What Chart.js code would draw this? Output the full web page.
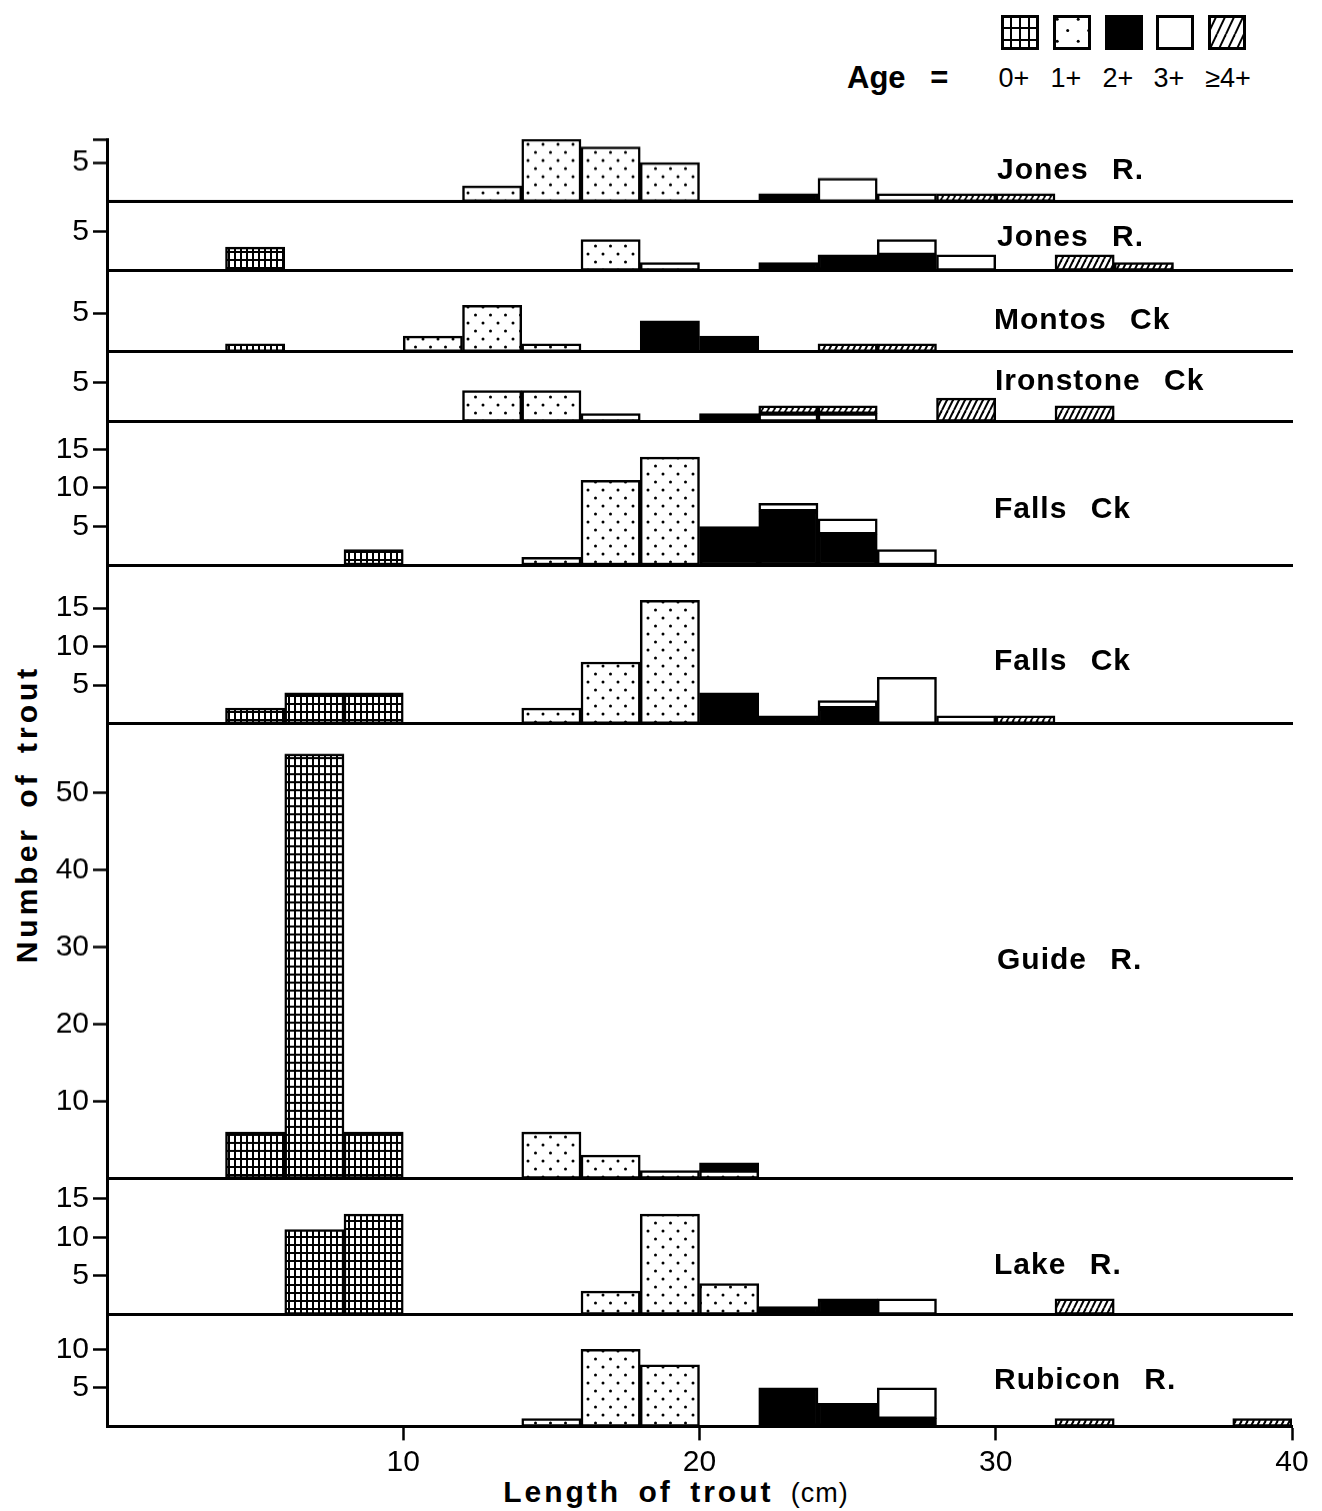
<!DOCTYPE html>
<html>
<head>
<meta charset="utf-8">
<title>Length of trout by age class</title>
<script src="https://cdn.jsdelivr.net/npm/chart.js@4.4.1/dist/chart.umd.min.js"></script>
<style>
  body { margin:0; background:#fff; width:1322px; height:1511px; position:relative; overflow:hidden;
         font-family:"Liberation Sans", Arial, sans-serif; color:#000; }
  .panel { position:absolute; left:0; width:1322px; }
  .name { position:absolute; font-weight:bold; font-size:30px; line-height:30px; letter-spacing:1px;
          word-spacing:14px; white-space:nowrap; }
  .swatch { position:absolute; top:15px; }
  .agelbl { position:absolute; top:63px; font-size:27px; line-height:30px; width:60px; text-align:center;
            font-family:"Liberation Sans Narrow","Liberation Sans",Arial,sans-serif; }
  #ytitle { position:absolute; left:-173px; top:796px; width:400px; text-align:center; transform:rotate(-90deg);
            font-weight:bold; font-size:30px; line-height:36px; letter-spacing:4px; word-spacing:6px; }
  #xtitle { position:absolute; left:376px; top:1474px; width:600px; text-align:center;
            font-size:30px; line-height:36px; letter-spacing:3px; word-spacing:6px; }
</style>
</head>
<body>
<div id="legend"></div>
<div id="ytitle">Number of trout</div>
<div id="xtitle"><b>Length of trout</b> <span style="font-size:27px;letter-spacing:1px">(cm)</span></div>
<div id="panels"></div>
<script>
// ── Data: 2-cm length classes, counts per age class (0+,1+,2+,3+,≥4+) ──
const binMids  = [1,3,5,7,9,11,13,15,17,19,21,23,25,27,29,31,33,35,37,39];
const ageNames = ['0+','1+','2+','3+','≥4+'];

const jonesA = [
  [0,0,0,0,0,0,0,0,0,0,0,0,0,0,0,0,0,0,0,0],
  [0,0,0,0,0,0,2,8,7,5,0,0,0,0,0,0,0,0,0,0],
  [0,0,0,0,0,0,0,0,0,0,0,1,0,0,0,0,0,0,0,0],
  [0,0,0,0,0,0,0,0,0,0,0,0,3,1,0,0,0,0,0,0],
  [0,0,0,0,0,0,0,0,0,0,0,0,0,0,1,1,0,0,0,0]];
const jonesB = [
  [0,0,3,0,0,0,0,0,0,0,0,0,0,0,0,0,0,0,0,0],
  [0,0,0,0,0,0,0,0,4,1,0,0,0,0,0,0,0,0,0,0],
  [0,0,0,0,0,0,0,0,0,0,0,1,2,2,0,0,0,0,0,0],
  [0,0,0,0,0,0,0,0,0,0,0,0,0,2,2,0,0,0,0,0],
  [0,0,0,0,0,0,0,0,0,0,0,0,0,0,0,0,2,1,0,0]];
const montos = [
  [0,0,1,0,0,0,0,0,0,0,0,0,0,0,0,0,0,0,0,0],
  [0,0,0,0,0,2,6,1,0,0,0,0,0,0,0,0,0,0,0,0],
  [0,0,0,0,0,0,0,0,0,4,2,0,0,0,0,0,0,0,0,0],
  [0,0,0,0,0,0,0,0,0,0,0,0,0,0,0,0,0,0,0,0],
  [0,0,0,0,0,0,0,0,0,0,0,0,1,1,0,0,0,0,0,0]];
const ironstone = [
  [0,0,0,0,0,0,0,0,0,0,0,0,0,0,0,0,0,0,0,0],
  [0,0,0,0,0,0,4,4,1,0,0,0,0,0,0,0,0,0,0,0],
  [0,0,0,0,0,0,0,0,0,0,1,0,0,0,0,0,0,0,0,0],
  [0,0,0,0,0,0,0,0,0,0,0,1,1,0,0,0,0,0,0,0],
  [0,0,0,0,0,0,0,0,0,0,0,1,1,0,3,0,2,0,0,0]];
const fallsA = [
  [0,0,0,0,2,0,0,0,0,0,0,0,0,0,0,0,0,0,0,0],
  [0,0,0,0,0,0,0,1,11,14,0,0,0,0,0,0,0,0,0,0],
  [0,0,0,0,0,0,0,0,0,0,5,7,4,0,0,0,0,0,0,0],
  [0,0,0,0,0,0,0,0,0,0,0,1,2,2,0,0,0,0,0,0],
  [0,0,0,0,0,0,0,0,0,0,0,0,0,0,0,0,0,0,0,0]];
const fallsB = [
  [0,0,2,4,4,0,0,0,0,0,0,0,0,0,0,0,0,0,0,0],
  [0,0,0,0,0,0,0,2,8,16,0,0,0,0,0,0,0,0,0,0],
  [0,0,0,0,0,0,0,0,0,0,4,1,2,0,0,0,0,0,0,0],
  [0,0,0,0,0,0,0,0,0,0,0,0,1,6,1,0,0,0,0,0],
  [0,0,0,0,0,0,0,0,0,0,0,0,0,0,0,1,0,0,0,0]];
const guide = [
  [0,0,6,55,6,0,0,0,0,0,0,0,0,0,0,0,0,0,0,0],
  [0,0,0,0,0,0,0,6,3,1,1,0,0,0,0,0,0,0,0,0],
  [0,0,0,0,0,0,0,0,0,0,1,0,0,0,0,0,0,0,0,0],
  [0,0,0,0,0,0,0,0,0,0,0,0,0,0,0,0,0,0,0,0],
  [0,0,0,0,0,0,0,0,0,0,0,0,0,0,0,0,0,0,0,0]];
const lake = [
  [0,0,0,11,13,0,0,0,0,0,0,0,0,0,0,0,0,0,0,0],
  [0,0,0,0,0,0,0,0,3,13,4,0,0,0,0,0,0,0,0,0],
  [0,0,0,0,0,0,0,0,0,0,0,1,2,0,0,0,0,0,0,0],
  [0,0,0,0,0,0,0,0,0,0,0,0,0,2,0,0,0,0,0,0],
  [0,0,0,0,0,0,0,0,0,0,0,0,0,0,0,0,2,0,0,0]];
const rubicon = [
  [0,0,0,0,0,0,0,0,0,0,0,0,0,0,0,0,0,0,0,0],
  [0,0,0,0,0,0,0,1,10,8,0,0,0,0,0,0,0,0,0,0],
  [0,0,0,0,0,0,0,0,0,0,0,5,3,1,0,0,0,0,0,0],
  [0,0,0,0,0,0,0,0,0,0,0,0,0,4,0,0,0,0,0,0],
  [0,0,0,0,0,0,0,0,0,0,0,0,0,0,0,0,1,0,0,1]];

const riverNames = ['Jones R.','Jones R.','Montos Ck','Ironstone Ck','Falls Ck','Falls Ck','Guide R.','Lake R.','Rubicon R.'];
const riverData  = [jonesA, jonesB, montos, ironstone, fallsA, fallsB, guide, lake, rubicon];
const yTickVals  = [[5,8],[5],[5],[5],[5,10,15],[5,10,15],[10,20,30,40,50],[5,10,15],[5,10]];
const yMaxes     = [8, 9, 10.6, 9, 18.7, 20.6, 59, 17.7, 14.6];
const xTickVals  = [0,10,20,30,40];

// ── Layout ─────────────────────────────────────────────────────
const PLOT_TOP = 139, UNIT = 7.7, AXIS_X = 107;
const nameX = [997, 997, 994, 995, 994, 994, 997, 994, 994];
const nameY = [170, 237, 320, 381, 509, 661, 960, 1265, 1380];
const TICK_FONT = { family:'"Liberation Sans Narrow", "Liberation Sans", Arial, sans-serif', size:30 };

// ── Fill patterns ──────────────────────────────────────────────
function makePattern(kind, s = 1) {
  const c = document.createElement('canvas'), g = c.getContext('2d');
  if (kind === 'grid') {
    c.width = 6*s; c.height = 8*s;
    g.fillStyle = '#fff'; g.fillRect(0,0,c.width,c.height);
    g.fillStyle = '#000'; g.fillRect(0,0,2,c.height); g.fillRect(0,0,c.width,2);
  } else if (kind === 'dots') {
    c.width = 15*s; c.height = 16*s;
    g.fillStyle = '#fff'; g.fillRect(0,0,c.width,c.height);
    g.fillStyle = '#000';
    [[3,3],[10.5,11]].forEach(([x,y]) => { g.beginPath(); g.arc(x*s,y*s,1.5,0,Math.PI*2); g.fill(); });
  } else if (kind === 'hatch') {
    c.width = 6*s; c.height = 12*s;
    g.fillStyle = '#fff'; g.fillRect(0,0,c.width,c.height);
    g.strokeStyle = '#000'; g.lineWidth = 2;
    [-1,0,1].forEach(k => { g.beginPath(); g.moveTo(k*c.width, c.height); g.lineTo((k+1)*c.width, 0); g.stroke(); });
  }
  return g.createPattern(c, 'repeat');
}
const fills = [makePattern('grid'), makePattern('dots'), '#000', '#fff', makePattern('hatch')];

// ── Legend ─────────────────────────────────────────────────────
const legend = document.getElementById('legend');
const swX = [1001, 1053, 1105, 1156, 1208];
legend.innerHTML = `<div style="position:absolute;left:847px;top:60px;font-size:31px;line-height:36px;word-spacing:16px;font-weight:bold">Age =</div>`;
const legFills = [makePattern('grid',1.5), makePattern('dots',1.4), '#000', '#fff', makePattern('hatch',1.6)];
ageNames.forEach((a, i) => {
  const cv = document.createElement('canvas');
  cv.width = 38; cv.height = 35; cv.className = 'swatch'; cv.style.left = swX[i] + 'px';
  const g = cv.getContext('2d');
  g.fillStyle = legFills[i]; g.fillRect(0,0,38,35);
  g.strokeStyle = '#000'; g.lineWidth = 3; g.strokeRect(1.5,1.5,35,32);
  legend.appendChild(cv);
  const t = document.createElement('div');
  t.className = 'agelbl'; t.style.left = (swX[i] - 11 + (i === 4 ? 1 : -6)) + 'px'; t.textContent = a;
  legend.appendChild(t);
});

// ── Panels ─────────────────────────────────────────────────────
const host = document.getElementById('panels');
let yPos = PLOT_TOP;
riverData.forEach((river, i) => {
  const last  = i === riverData.length - 1;
  const h     = yMaxes[i] * UNIT;
  const padT  = 14, padB = last ? 0 : 4, xH = last ? 60 : 0;

  const div = document.createElement('div');
  div.className = 'panel';
  div.style.top = (yPos - padT) + 'px';
  div.style.height = (padT + h + xH + padB) + 'px';
  const cv = document.createElement('canvas');
  div.appendChild(cv);
  host.appendChild(div);

  const name = document.createElement('div');
  name.className = 'name';
  name.style.left = nameX[i] + 'px'; name.style.top = (nameY[i] - 16) + 'px';
  name.textContent = riverNames[i];
  host.appendChild(name);

  const ticks = yTickVals[i];
  new Chart(cv, {
    type: 'bar',
    data: {
      datasets: river.map((vals, k) => ({
        label: ageNames[k],
        data: binMids.map((x, j) => ({ x, y: vals[j] || null })),
        backgroundColor: fills[k], borderColor: '#000', borderWidth: 2.5, borderSkipped: false,
        barPercentage: 1, categoryPercentage: 1,
      })),
    },
    options: {
      responsive: true, maintainAspectRatio: false, animation: false, events: [],
      layout: { padding: { top: padT, bottom: padB, left: 0, right: 30 } },
      plugins: { legend: { display: false }, tooltip: { enabled: false } },
      scales: {
        x: {
          type: 'linear', min: 0, max: 40, offset: false, stacked: true,
          afterBuildTicks: s => { s.ticks = xTickVals.map(v => ({ value: v })); },
          afterFit: s => { s.height = xH; s.paddingLeft = 0; s.paddingRight = 0; },
          grid: { display: last, drawOnChartArea: false, offset: false, drawTicks: last, tickLength: 14, tickWidth: 2.5,
                  tickColor: c => (c.tick && c.tick.value === 0) ? 'rgba(0,0,0,0)' : '#000' },
          border: { display: true, color: '#000', width: 3 },
          ticks: { display: last, color: '#000', font: TICK_FONT, padding: 4, maxRotation: 0,
                   callback: v => v === 0 ? '' : String(v) },
        },
        y: {
          min: 0, max: yMaxes[i], stacked: true,
          afterBuildTicks: s => { s.ticks = ticks.map(v => ({ value: v })); },
          afterFit: s => { s.width = AXIS_X; s.paddingTop = 0; s.paddingBottom = 0; },
          grid: { drawOnChartArea: false, tickLength: 14, tickWidth: 2.5, tickColor: '#000' },
          border: { color: '#000', width: 3 },
          ticks: { color: '#000', font: TICK_FONT, padding: 4,
                   callback: v => (i === 0 && v === 8) ? '' : String(v) },
        },
      },
    },
  });
  yPos += h;
});
</script>
</body>
</html>
